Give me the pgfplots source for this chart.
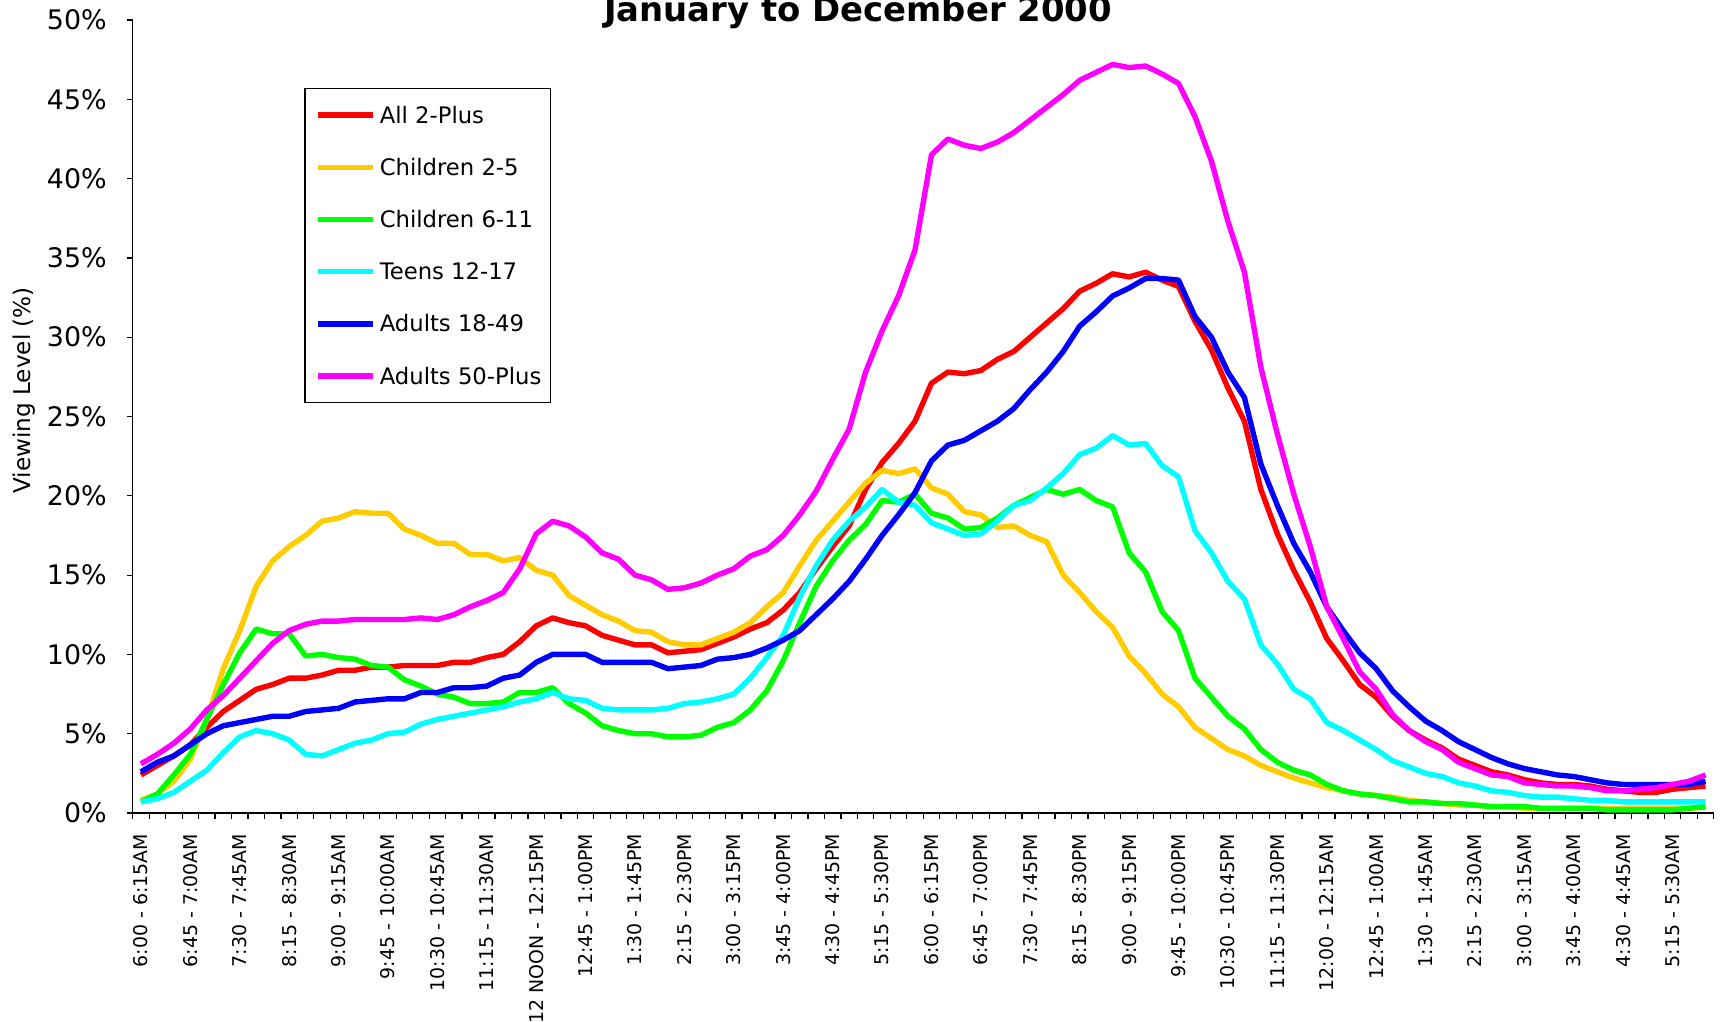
\documentclass[border=0pt]{standalone}
\usepackage{fontspec}
\setmainfont{DejaVu Sans}
\usepackage{pgfplots}
\pgfplotsset{compat=1.18}
\usepackage{pgfplotstable}
\usetikzlibrary{calc}
\definecolor{cRed}{RGB}{255,0,0}
\definecolor{cYel}{RGB}{255,204,0}
\definecolor{cGrn}{RGB}{0,255,0}
\definecolor{cCyn}{RGB}{0,255,255}
\definecolor{cBlu}{RGB}{0,0,255}
\definecolor{cMag}{RGB}{255,0,255}

\pgfplotstableread{
i R Y G C B M
0 2.4 0.8 0.7 0.7 2.6 3.1
1 3.0 1.2 1.2 0.9 3.2 3.7
2 3.6 2.0 2.4 1.3 3.6 4.4
3 4.3 3.4 3.7 2.0 4.3 5.3
4 5.4 5.9 5.9 2.7 5.0 6.5
5 6.4 9.1 8.1 3.8 5.5 7.4
6 7.1 11.5 10.1 4.8 5.7 8.5
7 7.8 14.3 11.6 5.2 5.9 9.6
8 8.1 15.9 11.3 5.0 6.1 10.7
9 8.5 16.8 11.3 4.6 6.1 11.5
10 8.5 17.5 9.9 3.7 6.4 11.9
11 8.7 18.4 10.0 3.6 6.5 12.1
12 9.0 18.6 9.8 4.0 6.6 12.1
13 9.0 19.0 9.7 4.4 7.0 12.2
14 9.2 18.9 9.3 4.6 7.1 12.2
15 9.2 18.9 9.2 5.0 7.2 12.2
16 9.3 17.9 8.4 5.1 7.2 12.2
17 9.3 17.5 8.0 5.6 7.6 12.3
18 9.3 17.0 7.5 5.9 7.6 12.2
19 9.5 17.0 7.3 6.1 7.9 12.5
20 9.5 16.3 6.9 6.3 7.9 13.0
21 9.8 16.3 6.9 6.5 8.0 13.4
22 10.0 15.9 7.0 6.7 8.5 13.9
23 10.8 16.1 7.6 7.0 8.7 15.4
24 11.8 15.3 7.6 7.2 9.5 17.6
25 12.3 15.0 7.9 7.6 10.0 18.4
26 12.0 13.7 6.9 7.2 10.0 18.1
27 11.8 13.1 6.3 7.1 10.0 17.4
28 11.2 12.5 5.5 6.6 9.5 16.4
29 10.9 12.1 5.2 6.5 9.5 16.0
30 10.6 11.5 5.0 6.5 9.5 15.0
31 10.6 11.4 5.0 6.5 9.5 14.7
32 10.1 10.8 4.8 6.6 9.1 14.1
33 10.2 10.6 4.8 6.9 9.2 14.2
34 10.3 10.6 4.9 7.0 9.3 14.5
35 10.7 11.0 5.4 7.2 9.7 15.0
36 11.1 11.4 5.7 7.5 9.8 15.4
37 11.6 12.0 6.5 8.5 10.0 16.2
38 12.0 13.0 7.7 9.8 10.4 16.6
39 12.8 13.9 9.6 11.2 10.9 17.5
40 13.9 15.6 12.0 13.6 11.5 18.8
41 15.4 17.2 14.3 15.6 12.5 20.3
42 16.8 18.4 15.9 17.2 13.5 22.3
43 18.1 19.6 17.2 18.4 14.6 24.2
44 20.4 20.8 18.2 19.3 16.0 27.8
45 22.1 21.6 19.7 20.4 17.5 30.4
46 23.3 21.4 19.6 19.6 18.8 32.6
47 24.7 21.7 20.1 19.4 20.2 35.5
48 27.1 20.5 18.9 18.3 22.2 41.5
49 27.8 20.1 18.6 17.9 23.2 42.5
50 27.7 19.0 17.9 17.5 23.5 42.1
51 27.9 18.8 18.0 17.6 24.1 41.9
52 28.6 18.0 18.6 18.4 24.7 42.3
53 29.1 18.1 19.4 19.4 25.5 42.9
54 30.0 17.5 19.9 19.7 26.7 43.7
55 30.9 17.1 20.4 20.5 27.8 44.5
56 31.8 15.0 20.1 21.4 29.1 45.3
57 32.9 13.9 20.4 22.6 30.7 46.2
58 33.4 12.7 19.7 23.0 31.6 46.7
59 34.0 11.7 19.3 23.8 32.6 47.2
60 33.8 9.9 16.4 23.2 33.1 47.0
61 34.1 8.8 15.2 23.3 33.7 47.1
62 33.6 7.5 12.7 21.9 33.7 46.6
63 33.2 6.7 11.5 21.2 33.6 46.0
64 31.0 5.4 8.5 17.8 31.3 43.9
65 29.2 4.7 7.3 16.4 30.0 41.1
66 26.8 4.0 6.1 14.6 27.8 37.3
67 24.7 3.6 5.3 13.5 26.2 34.1
68 20.4 3.0 4.0 10.6 22.0 28.1
69 17.6 2.6 3.2 9.4 19.4 23.9
70 15.3 2.2 2.7 7.8 17.0 20.1
71 13.3 1.9 2.4 7.2 15.2 16.8
72 11.0 1.6 1.8 5.7 13.0 13.0
73 9.6 1.4 1.4 5.2 11.5 11.0
74 8.1 1.2 1.2 4.6 10.1 8.9
75 7.3 1.1 1.1 4.0 9.1 7.8
76 6.1 1.0 0.9 3.3 7.7 6.2
77 5.2 0.8 0.7 2.9 6.7 5.2
78 4.6 0.7 0.7 2.5 5.8 4.5
79 4.1 0.6 0.6 2.3 5.2 4.0
80 3.4 0.5 0.6 1.9 4.5 3.2
81 3.0 0.5 0.5 1.7 4.0 2.8
82 2.6 0.4 0.4 1.4 3.5 2.4
83 2.4 0.4 0.4 1.3 3.1 2.3
84 2.1 0.3 0.4 1.1 2.8 1.9
85 1.9 0.3 0.3 1.0 2.6 1.8
86 1.8 0.3 0.3 1.0 2.4 1.7
87 1.8 0.3 0.3 0.9 2.3 1.7
88 1.7 0.3 0.3 0.8 2.1 1.6
89 1.5 0.3 0.2 0.8 1.9 1.4
90 1.4 0.3 0.2 0.7 1.8 1.4
91 1.3 0.3 0.2 0.7 1.8 1.5
92 1.3 0.3 0.2 0.7 1.8 1.6
93 1.5 0.3 0.2 0.7 1.8 1.8
94 1.6 0.3 0.3 0.7 1.8 2.0
95 1.7 0.4 0.4 0.7 2.0 2.4
}\viewing

\begin{document}
\begin{tikzpicture}
\begin{axis}[
  scale only axis, width=790.55bp, height=396.5bp,
  xmin=-0.5, xmax=95.5, ymin=0, ymax=50,
  axis lines=left, axis line style={-, line width=0.75bp, black},
  tick align=outside, major tick length=2.8bp,
  tick style={line width=0.6bp, black},
  xtick={-0.5,0.5,...,95.5}, xticklabels={},
  extra x ticks={0,3,...,93},
  extra x tick labels={6:00 - 6:15AM,6:45 - 7:00AM,7:30 - 7:45AM,8:15 - 8:30AM,9:00 - 9:15AM,9:45 - 10:00AM,10:30 - 10:45AM,11:15 - 11:30AM,12 NOON - 12:15PM,12:45 - 1:00PM,1:30 - 1:45PM,2:15 - 2:30PM,3:00 - 3:15PM,3:45 - 4:00PM,4:30 - 4:45PM,5:15 - 5:30PM,6:00 - 6:15PM,6:45 - 7:00PM,7:30 - 7:45PM,8:15 - 8:30PM,9:00 - 9:15PM,9:45 - 10:00PM,10:30 - 10:45PM,11:15 - 11:30PM,12:00 - 12:15AM,12:45 - 1:00AM,1:30 - 1:45AM,2:15 - 2:30AM,3:00 - 3:15AM,3:45 - 4:00AM,4:30 - 4:45AM,5:15 - 5:30AM},
  extra x tick style={major tick length=0pt,
    xticklabel style={font=\fontsize{9.5}{10}\selectfont, inner sep=0pt, yshift=-10.3bp, rotate=90, anchor=east}},
  ytick={0,5,...,50},
  yticklabels={0\%,5\%,10\%,15\%,20\%,25\%,30\%,35\%,40\%,45\%,50\%},
  yticklabel style={font=\fontsize{13.5}{15}\selectfont, inner sep=0pt, xshift=-10bp},
  ylabel={Viewing Level (\%)},
  ylabel style={at={(rel axis cs:-0.06875,0.533)}, anchor=center, font=\fontsize{11.6}{13}\selectfont},
  title={January to December 2000},
  title style={at={(rel axis cs:0.4587,1)}, anchor=base, yshift=-6.9bp, font=\bfseries\fontsize{17}{19}\selectfont},
  legend cell align=left,
  legend image code/.code={\path (0bp,0bp) (28bp,0bp); \draw[#1] (0.5bp,0bp) -- (28bp,0bp);},
  legend style={at={(rel axis cs:0.1086,0.9142)}, anchor=north west, draw=black, line width=0.6bp,
    inner xsep=4.5bp, inner ysep=8.7bp, row sep=17.1bp, column sep=2.2bp,
    font=\fontsize{11.4}{12}\selectfont,
    nodes={inner sep=0pt, text height=8.5bp, text depth=0.5bp}},
]
\addplot[cRed, line width=2.7bp, line join=round] table[x=i,y=R]{\viewing};
\addplot[cYel, line width=2.7bp, line join=round] table[x=i,y=Y]{\viewing};
\addplot[cGrn, line width=2.7bp, line join=round] table[x=i,y=G]{\viewing};
\addplot[cCyn, line width=2.7bp, line join=round] table[x=i,y=C]{\viewing};
\addplot[cBlu, line width=2.7bp, line join=round] table[x=i,y=B]{\viewing};
\addplot[cMag, line width=2.7bp, line join=round] table[x=i,y=M]{\viewing};
\legend{All 2-Plus,Children 2-5,Children 6-11,Teens 12-17,Adults 18-49,Adults 50-Plus}
\coordinate (bl) at (rel axis cs:0,0);
\end{axis}
\pgfresetboundingbox
\useasboundingbox ($(bl)+(-66.35bp,-104.5bp)$) rectangle ($(bl)+(795.15bp,406.5bp)$);
\end{tikzpicture}
\end{document}
